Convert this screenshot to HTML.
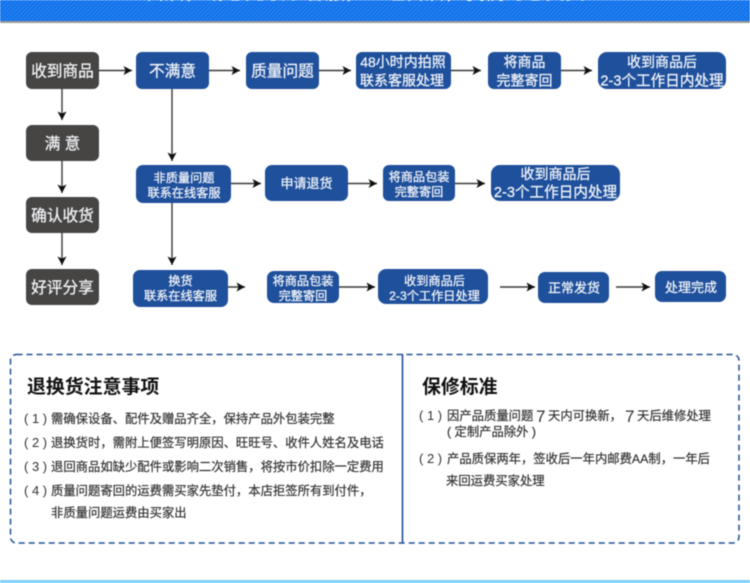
<!DOCTYPE html>
<html lang="zh"><head><meta charset="utf-8">
<style>
html,body{margin:0;padding:0;background:#fff}
svg{display:block;filter:blur(.45px)}
text{font-family:"Liberation Sans","Noto Sans CJK SC",sans-serif}
.w{fill:#f2f5f9;stroke:#f2f5f9;stroke-width:.25px;text-anchor:middle}
.t{fill:#333;stroke:#333;stroke-width:.2px;font-size:12.33px}
.h{fill:#111;font-size:18.9px;font-weight:bold}
.p{fill:#333;font-size:13px}
.l{stroke:#3a3a3a;stroke-width:1.4;fill:none}
</style></head><body>
<svg width="750" height="583" viewBox="0 0 750 583" xmlns="http://www.w3.org/2000/svg">
<defs>
<pattern id="st" width="3" height="3" patternUnits="userSpaceOnUse" patternTransform="rotate(45)">
<rect width="3" height="3" fill="#0f70ea"/><rect width="1.2" height="3" fill="#2a84f2"/>
</pattern>
<marker id="a" markerWidth="10" markerHeight="10" refX="8.5" refY="4.5" orient="auto" markerUnits="userSpaceOnUse">
<path d="M0 0L8.5 4.5L0 9L2 4.5Z" fill="#111"/>
</marker>
</defs>
<rect width="750" height="583" fill="#fff"/>
<rect y="21" width="750" height="2" fill="#9a9a9a"/>
<rect width="750" height="21" fill="url(#st)"/>
<text x="365" y="-1" style="fill:#fff;font-size:20px;text-anchor:middle">售后，请您先联系客服，一经售后，我们为您负责</text>

<!-- dark nodes -->
<g fill="#474543">
<rect x="26" y="52" width="73" height="37" rx="6"/>
<rect x="26" y="125" width="73" height="36" rx="6"/>
<rect x="26" y="197" width="73" height="36" rx="6"/>
<rect x="26" y="269" width="73" height="36" rx="6"/>
</g>
<!-- blue nodes -->
<g fill="#1f509c">
<rect x="136" y="52" width="73" height="37" rx="6"/>
<rect x="246" y="52" width="73" height="37" rx="6"/>
<rect x="356" y="52" width="95" height="37" rx="6"/>
<rect x="488" y="52" width="73" height="37" rx="6"/>
<rect x="598" y="52" width="128" height="37" rx="9"/>
<rect x="136" y="165" width="95" height="38" rx="7"/>
<rect x="265" y="165" width="83" height="36" rx="7"/>
<rect x="383" y="165" width="72" height="36" rx="6"/>
<rect x="491" y="165" width="129" height="36" rx="9"/>
<rect x="133" y="270" width="95" height="37" rx="7"/>
<rect x="267" y="271" width="72" height="32" rx="7"/>
<rect x="378" y="269" width="110" height="35" rx="8"/>
<rect x="538" y="272" width="71" height="31" rx="7"/>
<rect x="655" y="271" width="71" height="31" rx="7"/>
</g>
<!-- connectors -->
<g class="l">
<path d="M99 70.5H132" marker-end="url(#a)"/>
<path d="M209 70.5H240" marker-end="url(#a)"/>
<path d="M319 70.5H351" marker-end="url(#a)"/>
<path d="M451 70.5H481" marker-end="url(#a)"/>
<path d="M561 70.5H592" marker-end="url(#a)"/>
<path d="M62 89V120" marker-end="url(#a)"/>
<path d="M62 161V193" marker-end="url(#a)"/>
<path d="M62 233V265" marker-end="url(#a)"/>
<path d="M172 89V161" marker-end="url(#a)"/>
<path d="M172 203V265" marker-end="url(#a)"/>
<path d="M231 183.5H261" marker-end="url(#a)"/>
<path d="M348 183.5H377" marker-end="url(#a)"/>
<path d="M455 183.5H485" marker-end="url(#a)"/>
<path d="M228 287H245" marker-end="url(#a)"/>
<path d="M339 287H375" marker-end="url(#a)"/>
<path d="M500 287H535" marker-end="url(#a)"/>
<path d="M616 287H650" marker-end="url(#a)"/>
</g>
<!-- node labels -->
<g style="font-size:15.7px">
<text class="w" x="62.5" y="76.5">收到商品</text>
<text class="w" x="62.5" y="149">满 意</text>
<text class="w" x="62.5" y="221">确认收货</text>
<text class="w" x="62.5" y="293">好评分享</text>
<text class="w" x="172.5" y="76.5">不满意</text>
<text class="w" x="282.5" y="76.5">质量问题</text>
</g>
<g style="font-size:14px">
<text class="w" x="403" y="67">48小时内拍照</text>
<text class="w" x="402" y="85.5">联系客服处理</text>
<text class="w" x="524.5" y="67">将商品</text>
<text class="w" x="524.5" y="85.5">完整寄回</text>
<text class="w" x="662" y="67">收到商品后</text>
<text class="w" x="662" y="85.5" style="font-size:14.6px">2-3个工作日内处理</text>
<text class="w" x="555.5" y="179">收到商品后</text>
<text class="w" x="555.5" y="197" style="font-size:14.6px">2-3个工作日内处理</text>
</g>
<g style="font-size:12.2px">
<text class="w" x="184" y="182">非质量问题</text>
<text class="w" x="184" y="197">联系在线客服</text>
<text class="w" x="419" y="181">将商品包装</text>
<text class="w" x="419" y="196">完整寄回</text>
<text class="w" x="180.5" y="285">换货</text>
<text class="w" x="180.5" y="300">联系在线客服</text>
<text class="w" x="303" y="285">将商品包装</text>
<text class="w" x="303" y="300">完整寄回</text>
<text class="w" x="434.5" y="285">收到商品后</text>
<text class="w" x="434.5" y="300">2-3个工作日处理</text>
</g>
<g style="font-size:13px">
<text class="w" x="306.5" y="188">申请退货</text>
<text class="w" x="574" y="292.5">正常发货</text>
<text class="w" x="691" y="292">处理完成</text>
</g>

<!-- notes panel -->
<rect x="10.5" y="354.5" width="728.5" height="188.5" rx="6" fill="#fff" stroke="#1f5096" stroke-width="1.5" stroke-dasharray="6 4"/>
<path d="M402.5 354V543" stroke="#1f5096" stroke-width="1.6"/>
<text x="27" y="393" class="h">退换货注意事项</text>
<text x="24" y="423" class="p">( 1 )</text><text x="51" y="423" class="t">需确保设备、配件及赠品齐全，保持产品外包装完整</text>
<text x="24" y="447" class="p">( 2 )</text><text x="51" y="447" class="t">退换货时，需附上便签写明原因、旺旺号、收件人姓名及电话</text>
<text x="24" y="471" class="p">( 3 )</text><text x="51" y="471" class="t">退回商品如缺少配件或影响二次销售，将按市价扣除一定费用</text>
<text x="24" y="495" class="p">( 4 )</text><text x="51" y="495" class="t">质量问题寄回的运费需买家先垫付，本店拒签所有到付件，</text>
<text x="51" y="517" class="t">非质量问题运费由买家出</text>

<text x="422" y="393" class="h">保修标准</text>
<text x="419" y="420" class="p">( 1 )</text>
<text x="447" y="420" class="t">因产品质量问题</text>
<text x="536" y="422" style="fill:#333;font-size:17px">7</text>
<text x="548" y="420" class="t">天内可换新，</text>
<text x="625" y="422" style="fill:#333;font-size:17px">7</text>
<text x="637" y="420" class="t">天后维修处理</text>
<text x="447" y="436" class="t">( 定制产品除外 )</text>
<text x="419" y="463" class="p">( 2 )</text>
<text x="447" y="463" class="t">产品质保两年，签收后一年内邮费AA制，一年后</text>
<text x="446" y="485" class="t">来回运费买家处理</text>

<rect y="580" width="750" height="3" fill="#7cd0f5"/>
</svg>
</body></html>
